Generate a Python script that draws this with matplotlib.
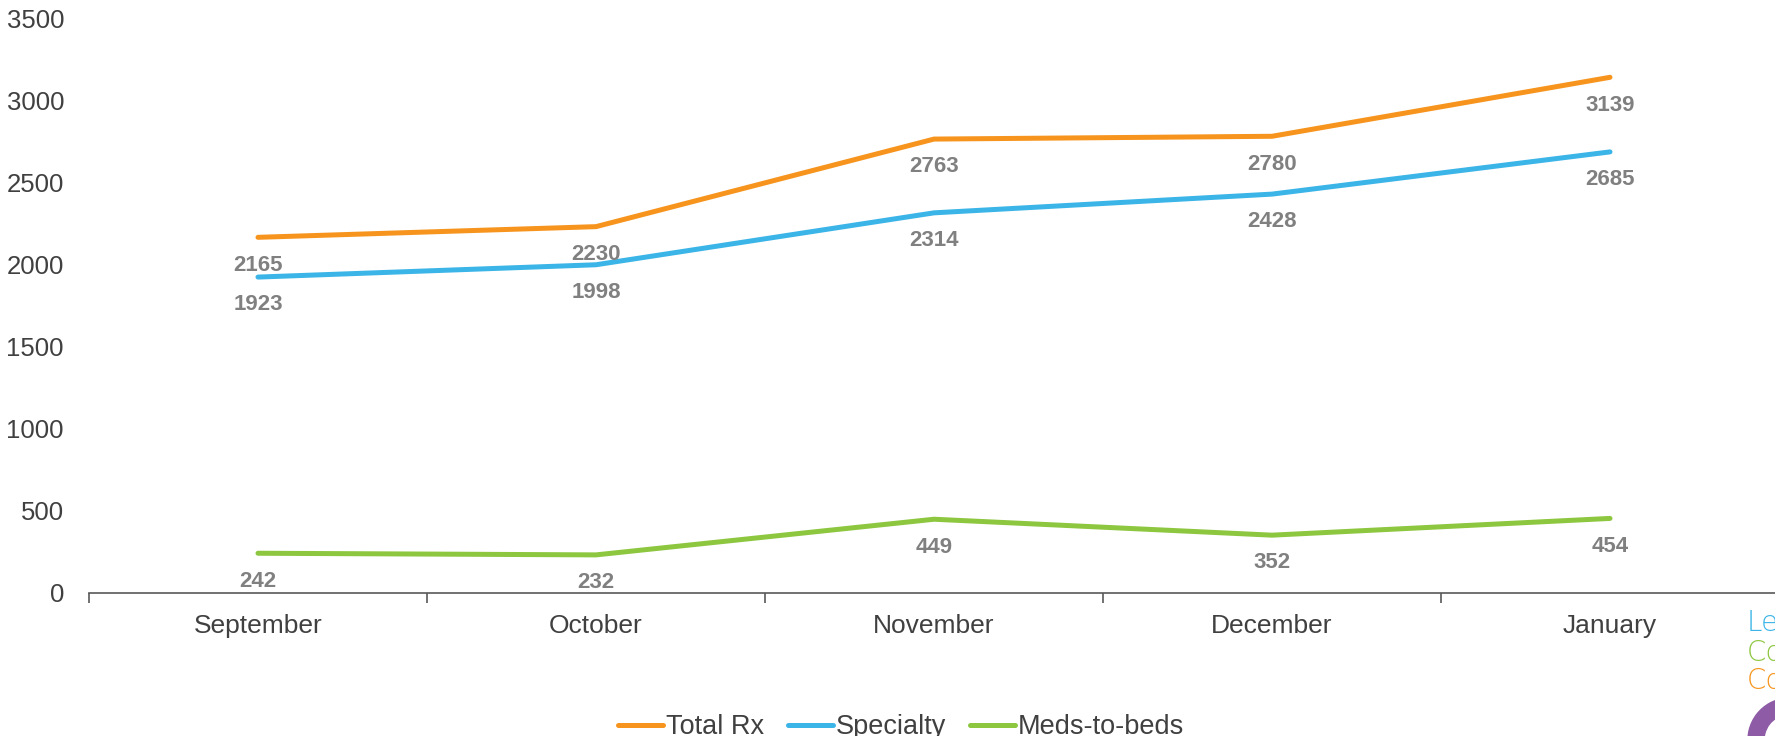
import matplotlib
matplotlib.use("Agg")
import matplotlib.pyplot as plt
from matplotlib.patches import Wedge
from matplotlib.transforms import IdentityTransform

months = ["September", "October", "November", "December", "January"]
total_rx = [2165, 2230, 2763, 2780, 3139]
specialty = [1923, 1998, 2314, 2428, 2685]
meds_to_beds = [242, 232, 449, 352, 454]
y_ticks = [0, 500, 1000, 1500, 2000, 2500, 3000, 3500]

series = [
    ("Total Rx", total_rx, "#F7941D"),
    ("Specialty", specialty, "#3BB4E7"),
    ("Meds-to-beds", meds_to_beds, "#8DC63F"),
]

plt.rcParams['font.family'] = ['Liberation Sans', 'DejaVu Sans']

W, H = 1775, 736
fig = plt.figure(figsize=(W / 100, H / 100), dpi=100)
ax = fig.add_axes([89 / W, 1 - 593 / H, 1690 / W, (593 - 18) / H])

x = list(range(len(months)))
for name, vals, col in series:
    ax.plot(x, vals, color=col, lw=3.6, solid_capstyle='round', label=name)
    for xi, v in zip(x, vals):
        ax.annotate(str(v), (xi, v), xytext=(0, -20), textcoords='offset points',
                    ha='center', va='center', fontsize=16, fontweight='bold',
                    color='#808080')

ax.set_xlim(-0.5, len(months) - 0.5)
ax.set_ylim(0, 3500)
ax.set_yticks(y_ticks)
ax.set_yticklabels([str(t) for t in y_ticks])
ax.tick_params(axis='y', length=0, labelsize=18.5, labelcolor='#404040', pad=18)

ax.set_xticks([i - 0.5 for i in range(len(months) + 1)])
ax.set_xticklabels([])
ax.set_xticks(x, minor=True)
ax.set_xticklabels(months, minor=True)
ax.tick_params(axis='x', which='major', length=7, width=1.2, color='#595959', direction='out')
ax.tick_params(axis='x', which='minor', length=0, labelsize=19, labelcolor='#404040', pad=15)

for s in ['top', 'right', 'left']:
    ax.spines[s].set_visible(False)
ax.spines['bottom'].set_color('#595959')
ax.spines['bottom'].set_linewidth(1.2)

leg = fig.legend(loc='center', bbox_to_anchor=(901 / W, 1 - 727 / H), ncol=3,
                 frameon=False, fontsize=19.5, handlelength=1.65, handletextpad=0.1,
                 columnspacing=0.9)
for t in leg.get_texts():
    t.set_color('#404040')

# cut-off logo fragments at the right edge
for txt, yy, col in [("Le", 623, "#3BB4E7"), ("Co", 653, "#8DC63F"), ("Co", 681, "#F7941D")]:
    fig.text(1747 / W, 1 - yy / H, txt, color=col, fontsize=20, ha='left', va='center',
             family=['DejaVu Sans'], fontweight='light')
wedge = Wedge((1790, 736 - 740), 42, 95, 190, width=16, color='#8E5BA6',
              transform=IdentityTransform())
fig.add_artist(wedge)

fig.savefig("out.png", dpi=100)
